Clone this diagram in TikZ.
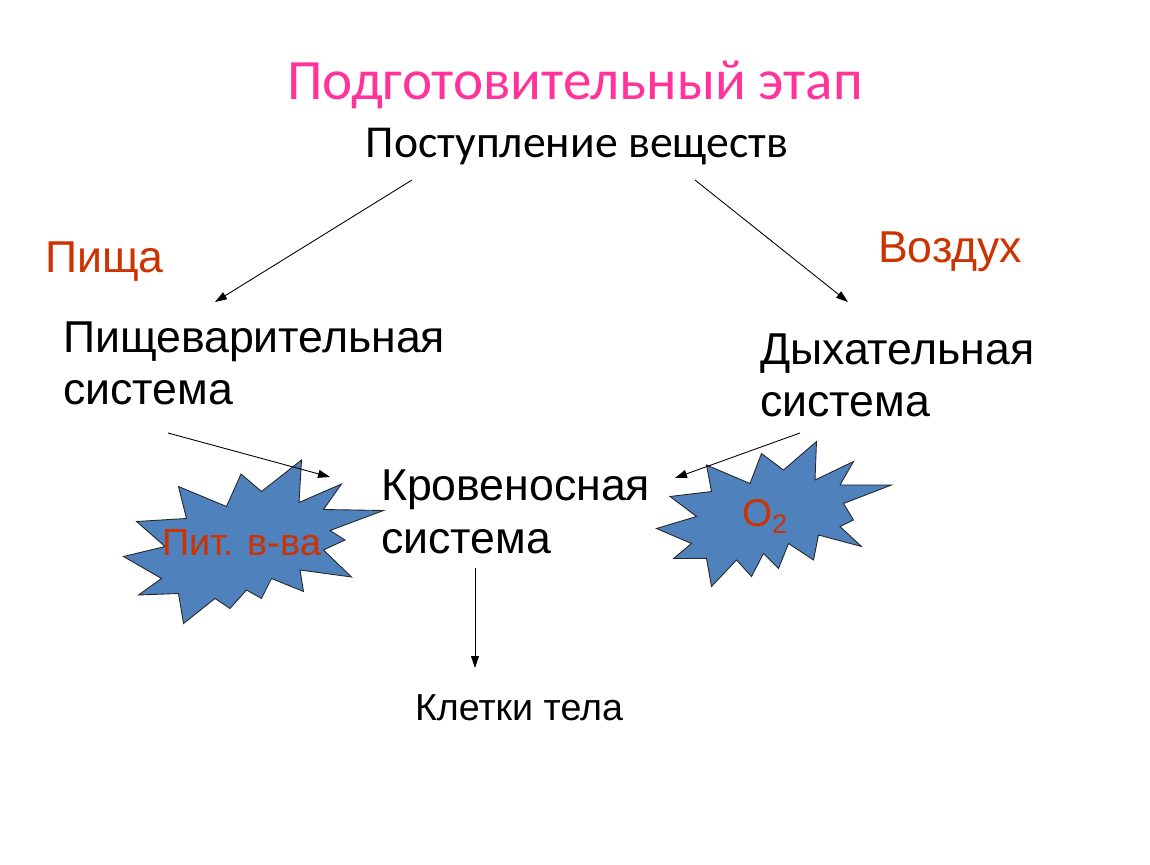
\documentclass[tikz,border=0pt]{standalone}
\usepackage{fontspec}
\setmainfont{Liberation Sans}
\newfontfamily\calibrifont{Carlito}
\usetikzlibrary{arrows.meta}

\definecolor{pinktitle}{RGB}{255,51,153}
\definecolor{redlabel}{RGB}{204,51,0}
\definecolor{starblue}{RGB}{79,129,189}

\begin{document}
\begin{tikzpicture}[
        every node/.style={inner sep=0pt, outer sep=0pt},
        flow/.style={draw, -{Triangle[length=2.4mm, width=1.6mm]}, line width=0.5pt, black},
        burst/.style={draw=black!85, fill=starblue, line width=0.5pt, line join=miter},
        organ/.style={anchor=base west, align=left, font=\fontsize{25.4}{29.6}\selectfont},
        food/.style={anchor=base west, text=redlabel, font=\fontsize{25.4}{29}\selectfont}
    ]
        \useasboundingbox (0,0) rectangle (23,17.28);

        % Звёзды (под стрелками)
        \draw[burst] (6.03,8.08) -- (5.98,7.23) -- (6.83,7.60) -- (6.47,7.09) -- (7.67,7.07)
            -- (6.60,6.67) -- (6.90,6.48) -- (6.47,6.28) -- (7.03,5.74) -- (6.00,5.88)
            -- (6.07,5.45) -- (5.43,5.71) -- (5.23,5.31) -- (4.93,5.48) -- (4.60,5.11)
            -- (4.30,5.31) -- (3.67,4.81) -- (3.57,5.41) -- (2.77,5.38) -- (3.23,5.71)
            -- (2.47,6.15) -- (3.30,6.35) -- (2.73,6.85) -- (3.73,6.91) -- (3.57,7.55)
            -- (4.53,7.15) -- (4.82,7.80) -- (5.23,7.45) -- cycle;
        \draw[burst] (16.33,8.45) -- (16.30,7.68) -- (17.07,8.05) -- (16.80,7.58) -- (17.83,7.58)
            -- (16.87,7.21) -- (17.07,6.88) -- (16.80,6.75) -- (17.23,6.35) -- (16.37,6.58)
            -- (16.27,6.08) -- (15.77,6.41) -- (15.57,5.91) -- (15.27,6.21) -- (15.03,5.75)
            -- (14.73,6.08) -- (14.23,5.55) -- (14.13,6.11) -- (13.47,6.11) -- (13.83,6.41)
            -- (13.13,6.71) -- (13.93,6.95) -- (13.40,7.35) -- (14.23,7.45) -- (14.13,7.98)
            -- (15.00,7.61) -- (15.23,8.21) -- (15.67,7.88) -- cycle;

        % Заголовки
        \node[anchor=base, text=pinktitle, font=\calibrifont\fontsize{32.5}{36}\selectfont] (title) at (11.5,15.28) {Подготовительный этап};
        \node[anchor=base, font=\calibrifont\fontsize{26}{30}\selectfont] (intake) at (11.54,14.12) {Поступление веществ};

        % Системы (base = нижняя строка)
        \node[organ] (digest) at (1.26,9.18) {Пищеварительная\\система};
        \node[organ] (breath) at (15.2,8.94) {Дыхательная\\система};
        \node[organ] (blood) at (7.62,6.22) {Кровеносная\\система};
        \node[anchor=base west, font=\fontsize{21.4}{24}\selectfont] (cells) at (8.3,2.88) {Клетки тела};

        % Что поступает
        \node[food] (food) at (0.9,11.82) {Пища};
        \node[food] (air) at (17.56,12.02) {Воздух};
        \node[food, font=\fontsize{21.5}{24}\selectfont] (nutr) at (3.24,6.18) {Пит. в-ва};
        \node[food, font=\fontsize{22}{24}\selectfont] (oxy) at (14.84,6.74) {O\textsubscript{2}};

        % Концы стрелок
        \coordinate (a1s) at (8.24,13.68);  \coordinate (a1e) at (4.30,11.24);
        \coordinate (a2s) at (13.90,13.68); \coordinate (a2e) at (16.96,11.24);
        \coordinate (a3s) at (3.36,8.62);   \coordinate (a3e) at (6.60,7.74);
        \coordinate (a4s) at (16.00,8.62);  \coordinate (a4e) at (13.50,7.72);
        \coordinate (a5s) at (9.50,5.92);   \coordinate (a5e) at (9.50,3.92);

        % Стрелки
        \draw[flow] (a1s) -- (a1e);
        \draw[flow] (a2s) -- (a2e);
        \draw[flow] (a3s) -- (a3e);
        \draw[flow] (a4s) -- (a4e);
        \draw[flow] (a5s) -- (a5e);

    \end{tikzpicture}
\end{document}
